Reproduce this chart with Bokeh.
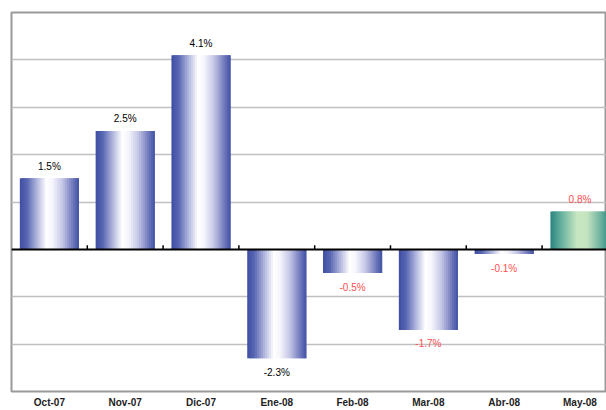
from bokeh.plotting import figure
from bokeh.models import ColumnDataSource, FixedTicker, LinearAxis, Range1d, Span
from bokeh.embed import file_html
from bokeh.resources import INLINE

months = ['Oct-07', 'Nov-07', 'Dic-07', 'Ene-08', 'Feb-08', 'Mar-08', 'Abr-08', 'May-08']
values = [1.5, 2.5, 4.1, -2.3, -0.5, -1.7, -0.1, 0.8]
labels = ['1.5%', '2.5%', '4.1%', '-2.3%', '-0.5%', '-1.7%', '-0.1%', '0.8%']
label_colors = ['black', 'black', 'black', 'black', '#ff5050', '#ff5050', '#ff5050', '#ff5050']
bar_styles = ['blue'] * 7 + ['green']
grid_values = [-2, -1, 1, 2, 3, 4]

# color stops across the bar width (left -> right), to fake the gradient
stops = {
    'blue': [(0.0, (62, 78, 162)), (0.12, (88, 102, 178)), (0.3, (182, 187, 224)),
             (0.45, (255, 255, 255)), (0.55, (246, 246, 252)), (0.72, (196, 198, 230)),
             (0.88, (120, 128, 192)), (1.0, (64, 80, 164))],
    'green': [(0.0, (40, 132, 126)), (0.18, (100, 176, 158)), (0.45, (200, 230, 194)),
              (0.62, (196, 228, 192)), (0.85, (110, 178, 158)), (1.0, (44, 136, 128))],
}


def grad_color(style, t):
    s = stops[style]
    for (t0, c0), (t1, c1) in zip(s[:-1], s[1:]):
        if t0 <= t <= t1:
            f = (t - t0) / (t1 - t0)
            r, g, b = [int(round(a + (b_ - a) * f)) for a, b_ in zip(c0, c1)]
            return '#%02x%02x%02x' % (r, g, b)
    return '#%02x%02x%02x' % s[-1][1]


bar_w = 0.78
n_strips = 30
strip_w = bar_w / n_strips
xs, tops, cols, widths = [], [], [], []
for i, v in enumerate(values):
    for k in range(n_strips):
        t = (k + 0.5) / n_strips
        last = k == n_strips - 1
        # overlap each strip onto the next one so no seams show
        w = strip_w if last else strip_w * 2
        xs.append(i - bar_w / 2 + k * strip_w + w / 2)
        widths.append(w)
        tops.append(v)
        cols.append(grad_color(bar_styles[i], t))
strips = ColumnDataSource(dict(x=xs, top=tops, color=cols, w=widths))

p = figure(width=606, height=410, output_backend="svg", toolbar_location=None,
           x_range=Range1d(-0.5, 7.35), y_range=Range1d(-3, 5),
           min_border_left=11, min_border_right=0, min_border_top=12, min_border_bottom=0,
           x_axis_location=None)
p.background_fill_color = "white"
p.border_fill_color = "white"
p.outline_line_color = "#9a9a9a"
p.outline_line_width = 2
p.yaxis.visible = False
p.xgrid.visible = False
p.ygrid.ticker = FixedTicker(ticks=grid_values)
p.ygrid.grid_line_color = "#c0c0c0"
p.ygrid.grid_line_width = 1.5

p.vbar(x='x', top='top', bottom=0, width='w', source=strips,
       fill_color='color', line_color=None)

# zero line with small ticks between categories
p.add_layout(Span(location=0, dimension='width', line_color='black', line_width=2))
px_per_unit = (389 - 12) / 8.0
bounds = [i + 0.5 for i in range(len(months) - 1)]
p.segment(x0=bounds, x1=bounds, y0=[0] * len(bounds), y1=[4 / px_per_unit] * len(bounds),
          line_color='black', line_width=1.5)

# data labels
offsets = [-12 if v >= 0 else 14 for v in values]
lab = ColumnDataSource(dict(x=list(range(len(months))), y=values, text=labels,
                            color=label_colors, off=offsets))
p.text(x='x', y='y', text='text', source=lab, text_color='color', y_offset='off',
       text_align='center', text_baseline='middle', text_font_size='10px',
       text_font={'value': 'Liberation Sans'})

xaxis = LinearAxis(ticker=FixedTicker(ticks=list(range(len(months)))),
                   major_label_overrides={i: m for i, m in enumerate(months)})
xaxis.axis_line_color = None
xaxis.major_tick_line_color = None
xaxis.minor_tick_line_color = None
xaxis.major_tick_out = 0
xaxis.major_tick_in = 0
xaxis.axis_label_standoff = 0
xaxis.major_label_standoff = 5
xaxis.major_label_text_font = "Liberation Sans"
xaxis.major_label_text_font_style = "bold"
xaxis.major_label_text_font_size = "10px"
xaxis.major_label_text_color = "#222222"
p.add_layout(xaxis, "below")

open("out.html", "w").write(file_html(p, INLINE))
